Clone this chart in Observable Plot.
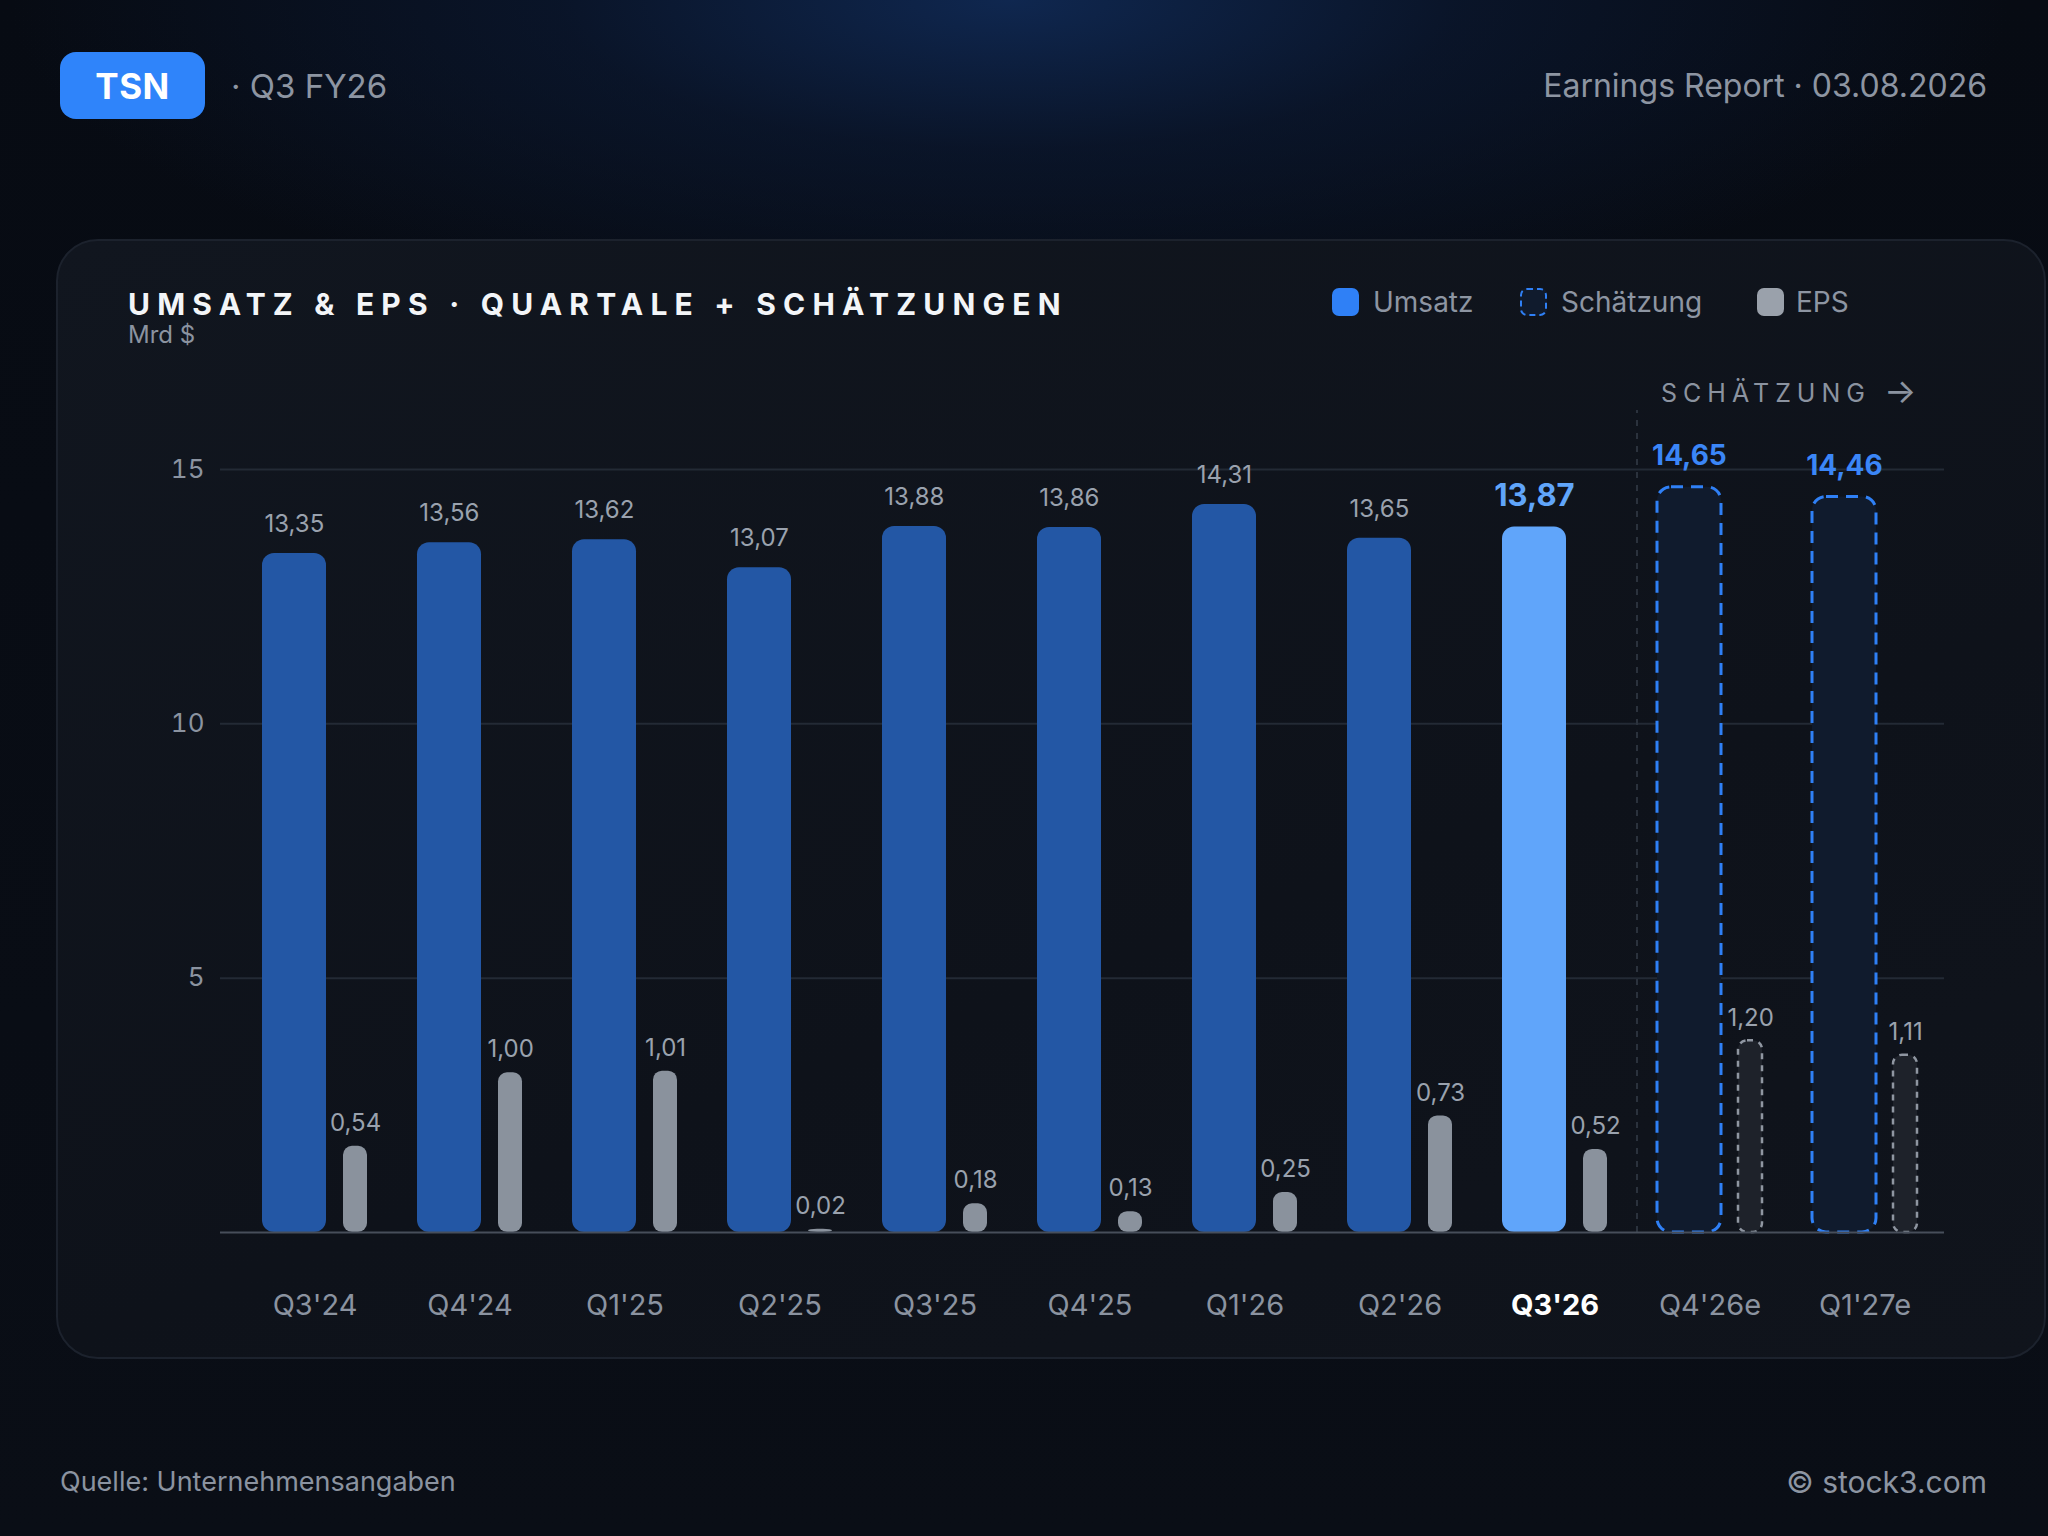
<!DOCTYPE html>
<html>
<head>
<meta charset="utf-8">
<script src="https://cdn.jsdelivr.net/npm/d3@7"></script>
<script src="https://cdn.jsdelivr.net/npm/@observablehq/plot@0.6"></script>
<style>
  html, body { margin: 0; padding: 0; }
  body { width: 2048px; height: 1536px; overflow: hidden; font-family: Inter, "Noto Sans", sans-serif; }
  #page {
    position: relative; width: 2048px; height: 1536px; overflow: hidden;
    background:
      radial-gradient(ellipse 1000px 330px at 1010px 0px, rgba(16,42,86,0.9) 0%, rgba(12,28,58,0.55) 45%, rgba(10,16,28,0) 100%),
      linear-gradient(180deg, #070b13 0%, #0a0e16 100%);
  }
  .abs { position: absolute; white-space: nowrap; }
  #badge {
    left: 60px; top: 52px; width: 145px; height: 67px; border-radius: 16px;
    background: #2f84fa; color: #fff; font-weight: 700; font-size: 35px;
    display: flex; align-items: center; justify-content: center; letter-spacing: 0.5px;
  }
  #sub { left: 231px; top: 66px; height: 40px; line-height: 40px; font-size: 33px; color: #8d95a2; }
  #report { right: 61px; top: 66px; height: 40px; line-height: 40px; font-size: 32px; color: #8d95a2; }
  #card {
    left: 56px; top: 239px; width: 1990px; height: 1120px; box-sizing: border-box;
    border-radius: 42px; border: 2px solid #1c222d;
    background: linear-gradient(160deg, #11161f 0%, #0e121a 60%, #10141c 100%);
  }
  #title { left: 128px; top: 286px; height: 36px; line-height: 36px; font-size: 30px; font-weight: 700; color: #f3f5f8; letter-spacing: 7.2px; }
  #unit { left: 128px; top: 321px; height: 28px; line-height: 28px; font-size: 24px; color: #8b93a0; }
  .lg { top: 288px; height: 28px; line-height: 28px; font-size: 28px; color: #8d95a2; }
  .sw { top: 288px; width: 27px; height: 28px; border-radius: 7px; box-sizing: border-box; }
  #ann { left: 1661px; top: 375px; height: 30px; line-height: 30px; font-size: 25px; color: #8b93a0; letter-spacing: 6px; }
  #ann .arr { font-size: 34px; letter-spacing: 0; position: relative; top: 1px; }
  #src { left: 60px; top: 1465px; height: 34px; line-height: 34px; font-size: 27px; color: #8b93a0; }
  #copy { right: 61px; top: 1464px; height: 36px; line-height: 36px; font-size: 30px; color: #8d95a2; }
  #chart { position: absolute; left: 0; top: 380px; }
</style>
</head>
<body>
<div id="page">
  <div id="badge" class="abs">TSN</div>
  <div id="sub" class="abs">· Q3 FY26</div>
  <div id="report" class="abs">Earnings Report · 03.08.2026</div>
  <div id="card" class="abs"></div>
  <div id="title" class="abs">UMSATZ &amp; EPS · QUARTALE + SCHÄTZUNGEN</div>
  <div id="unit" class="abs">Mrd $</div>

  <div class="abs sw" style="left:1332px; background:#2f80f6;"></div>
  <div class="abs lg" style="left:1373px;">Umsatz</div>
  <div class="abs sw" style="left:1520px; background:#101b2d; border:2.5px dashed #2f80f6;"></div>
  <div class="abs lg" style="left:1561px;">Schätzung</div>
  <div class="abs sw" style="left:1757px; background:#9aa1ab;"></div>
  <div class="abs lg" style="left:1796px;">EPS</div>

  <div id="ann" class="abs">SCHÄTZUNG <span class="arr">→</span></div>

  <div id="chart"></div>

  <div id="src" class="abs">Quelle: Unternehmensangaben</div>
  <div id="copy" class="abs">© stock3.com</div>
</div>
<script>
// ---- data ----
const quarters = ["Q3'24", "Q4'24", "Q1'25", "Q2'25", "Q3'25", "Q4'25", "Q1'26", "Q2'26", "Q3'26", "Q4'26e", "Q1'27e"];
const revenue  = [13.35, 13.56, 13.62, 13.07, 13.88, 13.86, 14.31, 13.65, 13.87, 14.65, 14.46];
const eps      = [0.54, 1.00, 1.01, 0.02, 0.18, 0.13, 0.25, 0.73, 0.52, 1.20, 1.11];
const estimate = [false, false, false, false, false, false, false, false, false, true, true];
const current  = "Q3'26";
const yTicks   = [5, 10, 15];
const EPS_SCALE = 3.14; // EPS drawn on its own (secondary) scale relative to revenue axis

const fmt = v => v.toFixed(2).replace(".", ",");
const rows = quarters.map((q, i) => ({
  q, rev: revenue[i], eps: eps[i], epsY: eps[i] * EPS_SCALE, est: estimate[i], cur: q === current
}));
const normal = rows.filter(d => !d.est && !d.cur);
const cur = rows.filter(d => d.cur);
const est = rows.filter(d => d.est);
const actual = rows.filter(d => !d.est);

const revIn = {insetLeft: 25, insetRight: 66};
const epsIn = {insetLeft: 106, insetRight: 25};
const revDx = -20.6, epsDx = 40.6;

const chart = Plot.plot({
  width: 2048,
  height: 980,
  marginLeft: 220,
  marginRight: 104,
  marginTop: 89,
  marginBottom: 128,
  x: {domain: quarters, range: [235, 1944.5], padding: 0, axis: null},
  y: {domain: [0, 15], axis: null},
  style: {background: "transparent", fontFamily: "Inter, sans-serif", overflow: "visible"},
  marks: [
    Plot.ruleY(yTicks, {stroke: "#232a35", strokeWidth: 2}),
    Plot.axisY(yTicks, {tickSize: 0, tickPadding: 16, fontSize: 26, color: "#8b93a0", label: null, tickFormat: d => String(d)}),
    Plot.ruleX(["Q4'26e"], {dx: -73, y1: 0, y2: 16.16, stroke: "#2b323d", strokeWidth: 2, strokeDasharray: "6,7"}),

    // actual revenue
    Plot.barY(normal, {x: "q", y: "rev", fill: "#2357a5", rx: 12, ...revIn}),
    Plot.barY(cur, {x: "q", y: "rev", fill: "#60a5fa", rx: 12, ...revIn}),
    // estimates
    Plot.barY(est, {x: "q", y: "rev", fill: "#101b2d", stroke: "#2f80f6", strokeWidth: 3, strokeDasharray: "12,8", rx: 14, ...revIn}),
    // EPS
    Plot.barY(actual, {x: "q", y: "epsY", fill: "#8a929d", rx: 9, ...epsIn}),
    Plot.barY(est, {x: "q", y: "epsY", fill: "#1e222a", stroke: "#8f96a1", strokeWidth: 2.5, strokeDasharray: "6,6", rx: 9, ...epsIn}),

    Plot.ruleY([0], {stroke: "#474e5a", strokeWidth: 2}),

    // value labels
    Plot.text(normal, {x: "q", y: "rev", text: d => fmt(d.rev), dx: revDx, dy: -29, fontSize: 24, fill: "#9aa2ae"}),
    Plot.text(cur, {x: "q", y: "rev", text: d => fmt(d.rev), dx: revDx, dy: -31, fontSize: 31, fontWeight: 700, fill: "#60a5fa"}),
    Plot.text(est, {x: "q", y: "rev", text: d => fmt(d.rev), dx: revDx, dy: -31, fontSize: 28, fontWeight: 700, fill: "#3b86f7"}),
    Plot.text(rows, {x: "q", y: "epsY", text: d => fmt(d.eps), dx: epsDx, dy: -23, fontSize: 24, fill: "#9aa2ae"}),

    // x labels
    Plot.text(rows.filter(d => !d.cur), {x: "q", y: 0, text: "q", dy: 73, fontSize: 29, fill: "#8b93a0"}),
    Plot.text(cur, {x: "q", y: 0, text: "q", dy: 73, fontSize: 29, fontWeight: 700, fill: "#ffffff"})
  ]
});
document.getElementById("chart").appendChild(chart);
</script>
</body>
</html>
